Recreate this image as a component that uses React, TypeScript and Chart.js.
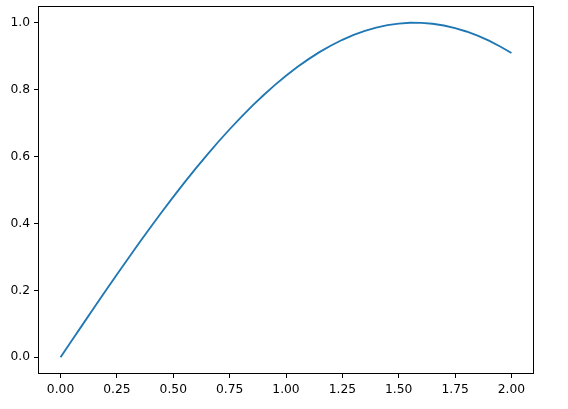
import React, { useEffect, useRef } from "react";
import { Chart, registerables } from "chart.js";

Chart.register(...registerables);

const xValues = [
  0.0, 0.05, 0.1, 0.15, 0.2, 0.25, 0.3, 0.35, 0.4, 0.45, 0.5, 0.55, 0.6, 0.65, 0.7, 0.75, 0.8,
  0.85, 0.9, 0.95, 1.0, 1.05, 1.1, 1.15, 1.2, 1.25, 1.3, 1.35, 1.4, 1.45, 1.5, 1.55, 1.6, 1.65,
  1.7, 1.75, 1.8, 1.85, 1.9, 1.95, 2.0,
];
const yValues = [
  0.0, 0.05, 0.0998, 0.1494, 0.1987, 0.2474, 0.2955, 0.3429, 0.3894, 0.435, 0.4794, 0.5227,
  0.5646, 0.6052, 0.6442, 0.6816, 0.7174, 0.7513, 0.7833, 0.8134, 0.8415, 0.8674, 0.8912,
  0.9128, 0.932, 0.949, 0.9636, 0.9757, 0.9854, 0.9927, 0.9975, 0.9998, 0.9996, 0.9969, 0.9917,
  0.984, 0.9738, 0.9613, 0.9463, 0.929, 0.9093,
];
const xTicks = [0, 0.25, 0.5, 0.75, 1.0, 1.25, 1.5, 1.75, 2.0];
const yTicks = [0, 0.2, 0.4, 0.6, 0.8, 1.0];

const framePlugin = {
  id: "frame",
  afterDraw(chart: any) {
    const { ctx, chartArea } = chart;
    const l = Math.round(chartArea.left) + 0.5;
    const t = Math.round(chartArea.top) + 0.5;
    const r = Math.round(chartArea.right) - 0.5;
    const b = Math.round(chartArea.bottom) - 0.5;
    ctx.save();
    ctx.strokeStyle = "#000";
    ctx.lineWidth = 1;
    ctx.strokeRect(l, t, r - l, b - t);
    ctx.restore();
  },
};

export default function App() {
  const ref = useRef<HTMLCanvasElement | null>(null);

  useEffect(() => {
    if (!ref.current) return;
    const font = { family: "DejaVu Sans", size: 12.3 };
    const chart = new Chart(ref.current, {
      type: "line",
      data: {
        datasets: [
          {
            data: xValues.map((x, i) => ({ x, y: yValues[i] })),
            borderColor: "#1f77b4",
            borderWidth: 1.85,
            pointRadius: 0,
            fill: false,
            tension: 0,
          },
        ],
      },
      options: {
        responsive: false,
        animation: false,
        events: [],
        layout: { padding: { top: 6, right: 34, left: 0, bottom: 0 } },
        plugins: { legend: { display: false }, tooltip: { enabled: false } },
        scales: {
          x: {
            type: "linear",
            min: -0.1,
            max: 2.1,
            afterBuildTicks: (axis: any) => {
              axis.ticks = xTicks.map((v) => ({ value: v }));
            },
            afterFit: (axis: any) => {
              axis.height = 35;
              axis.paddingLeft = 0;
              axis.paddingRight = 0;
              axis.paddingTop = 0;
              axis.paddingBottom = 0;
            },
            grid: { drawOnChartArea: false, drawTicks: true, tickLength: 4, color: "#000", lineWidth: 1 },
            border: { display: false },
            ticks: {
              color: "#000",
              font,
              padding: 4,
              maxRotation: 0,
              autoSkip: false,
              callback: (v: any) => Number(v).toFixed(2),
            },
          },
          y: {
            type: "linear",
            min: -0.05,
            max: 1.05,
            afterBuildTicks: (axis: any) => {
              axis.ticks = yTicks.map((v) => ({ value: v }));
            },
            afterFit: (axis: any) => {
              axis.width = 38;
              axis.paddingLeft = 0;
              axis.paddingRight = 0;
              axis.paddingTop = 0;
              axis.paddingBottom = 0;
            },
            grid: { drawOnChartArea: false, drawTicks: true, tickLength: 4, color: "#000", lineWidth: 1 },
            border: { display: false },
            ticks: {
              color: "#000",
              font,
              padding: 4,
              autoSkip: false,
              callback: (v: any) => Number(v).toFixed(1),
            },
          },
        },
      },
      plugins: [framePlugin],
    } as any);
    return () => chart.destroy();
  }, []);

  return (
    <div style={{ position: "fixed", left: 0, top: 0, width: 568, height: 409, background: "#fff" }}>
      <canvas ref={ref} width={568} height={409} style={{ display: "block" }} />
    </div>
  );
}
